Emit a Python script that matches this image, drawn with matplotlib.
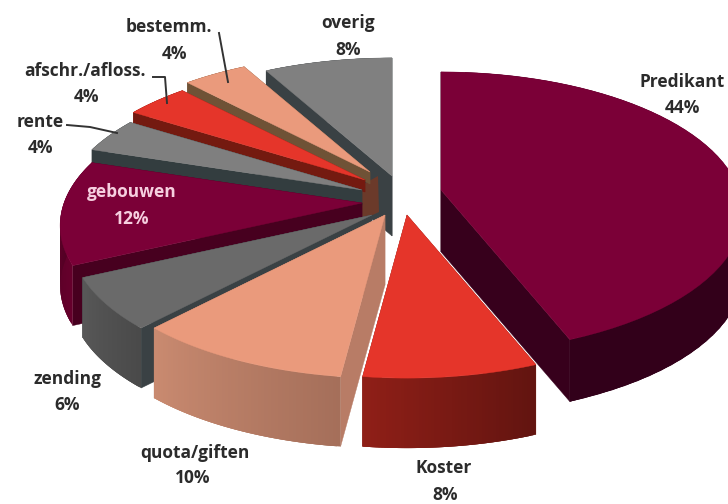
import numpy as np
import matplotlib
matplotlib.use('Agg')
import matplotlib.pyplot as plt
from matplotlib.colors import to_rgb

# slices, clockwise from the top
names = ['Predikant', 'Koster', 'quota/giften', 'zending', 'gebouwen', 'rente', 'afschr./afloss.', 'bestemm.', 'overig']
values = [44, 8, 10, 6, 12, 4, 4, 4, 8]

# look of each slice
tips = [(441, 190), (407, 215), (385, 215), (372, 215), (362, 203), (362, 190), (365, 180), (370, 172), (392, 176)]
depths = [62, 70, 70, 60, 60, 15, 12, 12, 60]
top_colors = ['#7b0037', '#e5352a', '#ea9a7c', '#6a6a6a', '#7b0037', '#7f7f7f', '#e5352a', '#ea9a7c', '#808080']
wall_colors = ['#37001c', '#7a1a12', '#b87c66', '#3a4144', '#47001f', '#333d3f', '#741a10', '#6f5236', '#3a4144']
side_left = ['#37001c', '#8f1f17', '#c98a70', '#585858', '#66002c', '#333d3f', '#741a10', '#6f5236', '#3a4144']
side_right = ['#32001a', '#621410', '#a56f5a', '#4a4a4a', '#4a0020', '#333d3f', '#741a10', '#6f5236', '#3a4144']
label_pos = [(682, 82, 682, 108), (444, 468, 445, 495), (195, 453, 193, 478), (67, 379, 67, 405),
             (132, 192, 132, 219), (40, 122, 41, 148), (85, 71, 87, 97), (169, 27, 175, 54), (348, 23, 348, 50)]

RX, RY, PERSP = 298, 137, 0.16


def project(tip, theta):
    # unit circle on the table to screen pixels, front of the pie comes out bigger
    x, y = np.cos(theta), np.sin(theta)
    w = 1 + PERSP * y
    return tip[0] + RX * x / w, tip[1] - RY * y / w


fig = plt.figure(figsize=(7.28, 5.04), dpi=100)
ax = fig.add_axes([0, 0, 1, 1])
ax.set_xlim(0, 728)
ax.set_ylim(504, 0)
ax.axis('off')

ends = 90 - 3.6 * np.cumsum(values)
starts = np.concatenate([[90], ends[:-1]])

# painted back to front, the big slice goes in after the back ones
order = [8, 7, 6, 5, 4, 0, 3, 2, 1]
for i in order:
    tip, d = tips[i], depths[i]
    th = np.radians(np.linspace(starts[i], ends[i], 60))
    px, py = project(tip, th)

    # radial walls
    for k in (0, -1):
        ax.fill([tip[0], px[k], px[k], tip[0]], [tip[1], py[k], py[k] + d, tip[1] + d],
                color=wall_colors[i], lw=0.3)

    # outer rim, shaded left to right, strips overlap so no seams show
    c0, c1 = np.array(to_rgb(side_left[i])), np.array(to_rgb(side_right[i]))
    for k in range(len(th) - 1):
        f = k / (len(th) - 2)
        if px[0] > px[-1]:
            f = 1 - f
        col = c0 + (c1 - c0) * f
        k2 = min(k + 3, len(th) - 1)
        ax.fill([px[k], px[k2], px[k2], px[k]],
                [py[k], py[k2], py[k2] + d, py[k] + d], color=col, lw=0)

    # top face
    ax.fill(np.r_[tip[0], px], np.r_[tip[1], py], color=top_colors[i], lw=0.3)

    # brown core where the back slices meet
    if names[i] == 'overig':
        ax.fill([362, 378, 379, 362], [185, 176, 212, 220], color='#6b3a2a', lw=0)

# leader lines
ax.plot([219, 228], [33, 82], color='#333333', lw=1.4)
ax.plot([153, 165, 167], [77, 77, 103], color='#333333', lw=1.4)
ax.plot([67, 90, 117], [125, 127, 133], color='#333333', lw=1.4)

for i, name in enumerate(names):
    x1, y1, x2, y2 = label_pos[i]
    col = '#f6cfdf' if name == 'gebouwen' else '#2b2b2b'
    ax.text(x1, y1, name, color=col, ha='center', va='center', fontsize=12.5,
            family='Open Sans', weight='bold')
    ax.text(x2, y2, f'{values[i]}%', color=col, ha='center', va='center', fontsize=12.5,
            family='Open Sans', weight='bold')

fig.savefig('out.png', dpi=100)
